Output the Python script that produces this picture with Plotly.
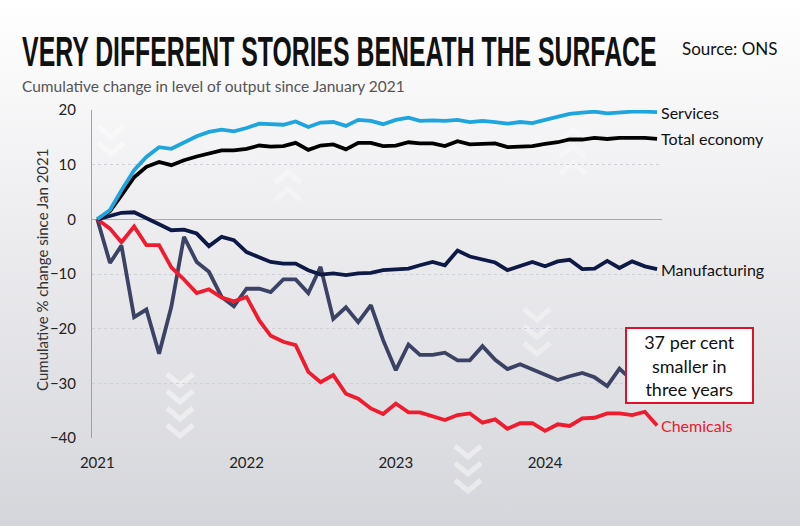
import base64
import pandas as pd
import plotly.graph_objects as go

months = pd.date_range("2021-01-01", "2024-10-01", freq="MS")

services = [0, 1.7, 5.3, 9.0, 11.4, 13.2, 12.9, 14.1, 15.2, 16.0,
            16.4, 16.1, 16.7, 17.5, 17.4, 17.3, 17.9, 16.9, 17.7, 17.8,
            17.1, 18.2, 18.0, 17.4, 18.2, 18.6, 18.0, 18.1, 18.0, 18.2,
            17.8, 18.0, 17.8, 17.5, 17.8, 17.6, 18.2, 18.7, 19.3, 19.5,
            19.7, 19.4, 19.6, 19.7, 19.7, 19.6]
total_economy = [0, 1.5, 4.4, 7.7, 9.6, 10.5, 9.9, 10.8, 11.5, 12.0,
                 12.6, 12.6, 12.9, 13.5, 13.3, 13.4, 14.0, 12.7, 13.5, 13.7,
                 12.8, 14.0, 14.0, 13.4, 13.5, 14.1, 13.9, 13.9, 13.4, 14.3,
                 13.7, 13.8, 13.9, 13.2, 13.3, 13.4, 13.8, 14.1, 14.6, 14.6,
                 14.9, 14.7, 14.9, 14.9, 14.9, 14.7]
manufacturing = [0, 0.7, 1.2, 1.3, 0.3, -0.9, -2.0, -1.9, -2.6, -4.9,
                 -3.2, -3.8, -6.0, -6.9, -7.8, -8.1, -8.1, -9.3, -10.1, -9.9,
                 -10.2, -9.9, -9.8, -9.3, -9.1, -9.0, -8.4, -7.8, -8.4, -5.7,
                 -6.8, -7.4, -7.9, -9.3, -8.6, -7.8, -8.6, -7.7, -7.4, -9.1,
                 -9.0, -7.6, -8.9, -7.7, -8.6, -9.1]
pharmaceuticals = [0, -8.0, -4.8, -17.9, -16.5, -24.6, -16.0, -3.2, -7.8, -9.6,
                   -14.2, -15.9, -12.7, -12.7, -13.3, -11.0, -11.0, -13.5, -8.7, -18.2,
                   -16.1, -18.8, -15.7, -22.1, -27.6, -22.9, -24.8, -24.8, -24.4, -25.8,
                   -25.8, -23.2, -25.7, -27.4, -26.5, -27.4, -28.3, -29.4, -28.7, -28.1,
                   -28.9, -30.5, -27.3, -29.5, -31.0, -32.5]
chemicals = [0, -1.7, -4.2, -1.3, -4.7, -4.7, -8.8, -11.0, -13.5, -12.8,
             -14.3, -15.0, -14.2, -18.5, -21.3, -22.4, -23.0, -27.9, -29.8, -28.5,
             -31.9, -32.8, -34.6, -35.6, -33.7, -35.3, -35.3, -36.0, -36.7, -35.8,
             -35.5, -37.2, -36.6, -38.3, -37.3, -37.3, -38.7, -37.5, -37.8, -36.4,
             -36.3, -35.5, -35.5, -35.8, -35.2, -37.7]

y_ticks = [-40, -30, -20, -10, 0, 10, 20]
x_ticks = ["2021-01-01", "2022-01-01", "2023-01-01", "2024-01-01"]
x_tick_labels = ["2021", "2022", "2023", "2024"]

series = [
    ("Pharmaceuticals", pharmaceuticals, "#3c4263", "#3c4263", 13),
    ("Chemicals", chemicals, "#ee1c2e", "#e8202f", 16),
    ("Manufacturing", manufacturing, "#0d1a45", "#111111", 16),
    ("Total economy", total_economy, "#000000", "#111111", 16),
    ("Services", services, "#1ea5de", "#111111", 16),
]

FONT = "Lato"

# plot-area geometry (pixels) used only for the decorative background
L, R, T, B = 92, 662, 110, 438
W, H = R - L, B - T


def px(x, y):
    return (x - L) / W, (B - y) / H


def chevrons(cx, top, count, down=True, opacity=0.5):
    out = []
    half, tall, gap = 13, 11, 17
    for k in range(count):
        y0 = top + k * gap
        if down:
            pts = [(cx - half, y0), (cx, y0 + tall), (cx + half, y0)]
        else:
            pts = [(cx - half, y0 + tall), (cx, y0), (cx + half, y0 + tall)]
        p = [px(a, b) for a, b in pts]
        path = "M {} {} L {} {} L {} {}".format(p[0][0], p[0][1], p[1][0],
                                                p[1][1], p[2][0], p[2][1])
        out.append(dict(type="path", xref="paper", yref="paper", path=path,
                        line=dict(color="rgba(255,255,255,%.2f)" % opacity,
                                  width=5), layer="below"))
    return out


deco = []
deco += chevrons(111, 126, 2, True, 0.4)
deco += chevrons(288, 172, 2, False, 0.3)
deco += chevrons(180, 374, 4, True, 0.45)
deco += chevrons(537, 309, 3, True, 0.35)
deco += chevrons(468, 446, 3, True, 0.45)
deco += chevrons(573, 129, 3, False, 0.28)

fig = go.Figure()
for name, vals, color, _, _ in series:
    fig.add_trace(go.Scatter(x=months, y=vals, mode="lines", name=name,
                             line=dict(color=color, width=3.8),
                             showlegend=False, hoverinfo="skip"))

annotations = [
    dict(xref="paper", yref="paper", x=-0.1263, y=1.177,
         text="VERY DIFFERENT STORIES BENEATH THE SURFACE",
         showarrow=False, xanchor="left", yanchor="middle",
         font=dict(family="Liberation Sans", size=30,
                   color="#111111", weight="bold")),
]
for name, vals, color, lcolor, fsize in series:
    annotations.append(dict(x=months[-1], y=vals[-1], xref="x", yref="y",
                            text=name, showarrow=False, xanchor="left",
                            yanchor="middle", xshift=2,
                            font=dict(family=FONT, size=fsize, color=lcolor)))

annotations += [
    dict(xref="paper", yref="paper", x=-0.1263, y=1.073,
         text="Cumulative change in level of output since January 2021",
         showarrow=False, xanchor="left", yanchor="middle",
         font=dict(family=FONT, size=15.5, color="#555555")),
    dict(xref="paper", yref="paper", x=1.0316, y=1.186,
         text="Source: ONS", showarrow=False, xanchor="left", yanchor="middle",
         font=dict(family=FONT, size=17, color="#111111")),
    dict(xref="paper", yref="paper", x=-0.088, y=0.512,
         text="Cumulative % change since Jan 2021", textangle=-90,
         showarrow=False, xanchor="center", yanchor="middle",
         font=dict(family=FONT, size=15, color="#333333")),
    dict(xref="paper", yref="paper", x=1.049, y=0.221,
         text="37 per cent<br>smaller in<br>three years",
         showarrow=False, xanchor="center", yanchor="middle",
         align="center", width=121, height=69, borderpad=2,
         bgcolor="#ffffff", bordercolor="#e0102a", borderwidth=2,
         font=dict(family=FONT, size=18, color="#111111")),
]

svg = ("<svg xmlns='http://www.w3.org/2000/svg' width='800' height='526'>"
       "<defs><linearGradient id='g' x1='0' y1='0' x2='0' y2='1'>"
       "<stop offset='0' stop-color='#ffffff'/>"
       "<stop offset='0.45' stop-color='#ececef'/>"
       "<stop offset='1' stop-color='#d5d6db'/>"
       "</linearGradient></defs>"
       "<rect width='800' height='526' fill='url(#g)'/></svg>")
bg_src = "data:image/svg+xml;base64," + base64.b64encode(svg.encode()).decode()

fig.update_layout(
    width=800, height=526,
    margin=dict(l=L, r=800 - R, t=T, b=526 - B),
    paper_bgcolor="#e6e6e9", plot_bgcolor="rgba(0,0,0,0)",
    annotations=annotations,
    shapes=deco,
    images=[dict(source=bg_src, xref="paper", yref="paper",
                 x=-L / W, y=1 + T / H, sizex=800 / W, sizey=526 / H,
                 xanchor="left", yanchor="top", sizing="stretch", layer="below")],
    xaxis=dict(type="date", range=["2020-12-19", "2024-10-13"],
               tickvals=x_ticks, ticktext=x_tick_labels,
               showgrid=False, zeroline=False, showline=False, ticks="",
               ticklabelstandoff=14,
               tickfont=dict(family=FONT, size=15, color="#222222")),
    yaxis=dict(range=[-40, 20], tickvals=y_ticks,
               showgrid=True, gridcolor="#cfd0d6", griddash="dot", gridwidth=1,
               zeroline=True, zerolinecolor="#a8a8ad", zerolinewidth=1,
               showline=True, linecolor="#a0a0a5", linewidth=1, ticks="",
               ticklabelstandoff=12,
               tickfont=dict(family=FONT, size=15, color="#222222")),
)

post = """
document.body.style.margin = '0';
document.body.style.padding = '0';
var gd = document.getElementById('{plot_id}');
function fixTitle(){
  var t = gd.querySelector('g.annotation[data-index="0"] text.annotation-text');
  if (t) {
    t.style.transformBox = 'fill-box';
    t.style.transformOrigin = 'left center';
    t.style.transform = 'scale(0.827, 1.4)';
  }
}
fixTitle();
gd.on('plotly_afterplot', fixTitle);
"""

fig.write_html("out.html", post_script=post, config={"displayModeBar": False})
